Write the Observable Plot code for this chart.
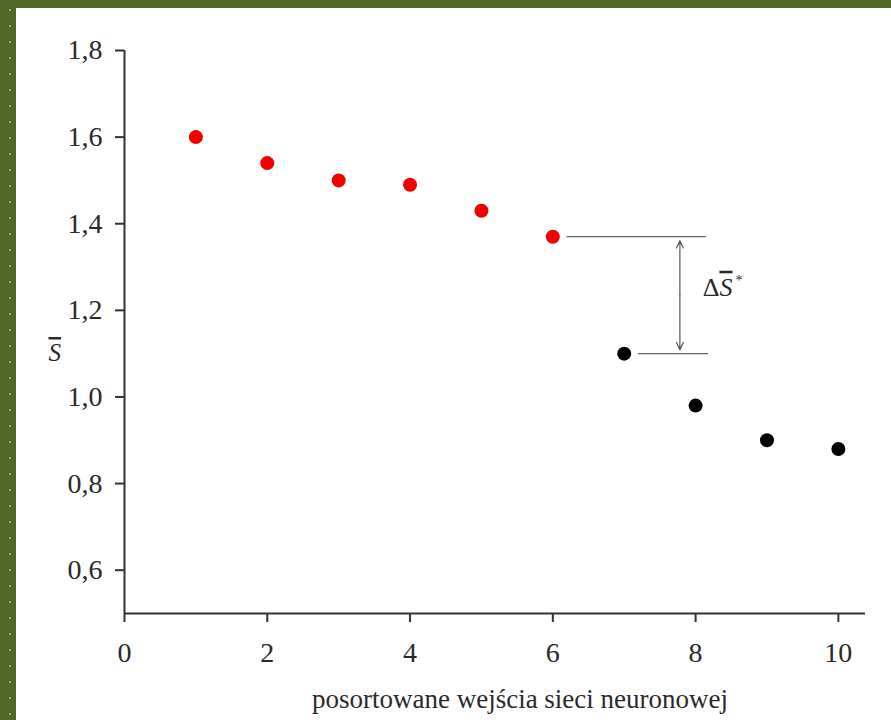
<!DOCTYPE html>
<html><head><meta charset="utf-8">
<script src="https://cdn.jsdelivr.net/npm/d3@7"></script>
<script src="https://cdn.jsdelivr.net/npm/@observablehq/plot@0.6"></script>
<style>
html,body{margin:0;padding:0;width:891px;height:720px;overflow:hidden;}
body{background-color:#506726;background-image:radial-gradient(circle, rgba(185,200,130,0.75) 0.9px, transparent 1.5px);background-size:16px 16px;background-position:2px 2px;}
#panel{position:absolute;left:16px;top:8px;width:875px;height:712px;background:#fff;}
.ovl{text-decoration:overline;}
</style></head><body><div id="panel"></div>
<script>
// data
const inputs = [1, 2, 3, 4, 5, 6, 7, 8, 9, 10];
const meanS = [1.60, 1.54, 1.50, 1.49, 1.43, 1.37, 1.10, 0.98, 0.90, 0.88];
const groups = ["sel", "sel", "sel", "sel", "sel", "sel", "rej", "rej", "rej", "rej"];
const groupNames = ["sel", "rej"];
const groupColors = ["#f20000", "#000000"];
const xTicks = [0, 2, 4, 6, 8, 10];
const yTicks = [0.6, 0.8, 1.0, 1.2, 1.4, 1.6, 1.8];
const xLabel = "posortowane wejścia sieci neuronowej";
const yLabel = "S";
// annotation (ΔS* gap)
const gapX1 = [6.2, 7.2];
const gapX2 = [8.15, 8.18];
const gapY = [1.37, 1.10];
const gapArrowX = 7.78;
const gapLabelPos = [8.1, 1.253];

const data = inputs.map((x, i) => ({x, y: meanS[i], g: groups[i]}));
const gapLines = gapY.map((y, i) => ({x1: gapX1[i], x2: gapX2[i], y}));
const mid = (gapY[0] + gapY[1]) / 2;
const arrows = gapY.map(y => ({x: gapArrowX, y1: mid, y2: y}));

const fmt = d => d.toFixed(1).replace(".", ",");
const FONT = "'Liberation Serif', 'Times New Roman', serif";

const plot = Plot.plot({
  width: 875, height: 712,
  marginLeft: 108, marginTop: 42, marginBottom: 107, marginRight: 26,
  style: {fontSize: "28px", color: "#2a2a2a", background: "transparent"},
  x: {domain: [0, 10.38]},
  y: {domain: [0.5, 1.8]},
  color: {domain: groupNames, range: groupColors},
  marks: [
    Plot.axisX({ticks: xTicks, tickSize: 9, tickPadding: 20, label: null, strokeWidth: 2, stroke: "#333", fontSize: 28, tickFormat: d => String(d)}),
    Plot.axisY({ticks: yTicks, tickSize: 9, tickPadding: 13, label: null, strokeWidth: 2, stroke: "#333", fontSize: 28, tickFormat: fmt}),
    Plot.ruleX([0], {stroke: "#333", strokeWidth: 2}),
    Plot.ruleY([0.5], {stroke: "#333", strokeWidth: 2}),
    Plot.ruleY(gapLines, {x1: "x1", x2: "x2", y: "y", stroke: "#666", strokeWidth: 1.3}),
    Plot.arrow(arrows, {x1: "x", x2: "x", y1: "y1", y2: "y2", bend: 0, headLength: 10, headAngle: 50, insetEnd: 4, stroke: "#555", strokeWidth: 1.2}),
    Plot.dot(data, {x: "x", y: "y", r: 7, fill: d => d.g, stroke: "none"}),
    Plot.text([xLabel], {frameAnchor: "bottom", dy: 94, dx: 25, text: d => d, fontSize: 27, fill: "#2a2a2a"}),
    Plot.text([yLabel], {frameAnchor: "left", dx: -76, dy: 21, text: d => d, fontSize: 25, fontStyle: "italic", fill: "#2a2a2a", className: "ylab"}),
    Plot.text([gapLabelPos], {x: d => d[0], y: d => d[1], text: () => "ΔS*", textAnchor: "start", fontSize: 26, fill: "#2a2a2a", className: "gaplab"})
  ]
});

// fonts: force the serif family on every text node
d3.select(plot).attr("font-family", FONT).style("font-family", FONT, "important");
d3.select(plot).selectAll("g").attr("font-family", null);
d3.select(plot).selectAll("text, tspan").attr("font-family", FONT).style("font-family", FONT, "important");

// style the math labels
d3.select(plot).selectAll(".ylab text").classed("ovl", true);
d3.select(plot).selectAll(".gaplab text").each(function() {
  const t = d3.select(this);
  t.text(null);
  t.append("tspan").text("Δ");
  t.append("tspan").attr("font-style", "italic").attr("class", "ovl").text("S");
  t.append("tspan").attr("font-size", "14px").attr("dy", "-0.75em").attr("dx", "3").text("*");
});

document.getElementById("panel").appendChild(plot);
</script>
</body></html>
